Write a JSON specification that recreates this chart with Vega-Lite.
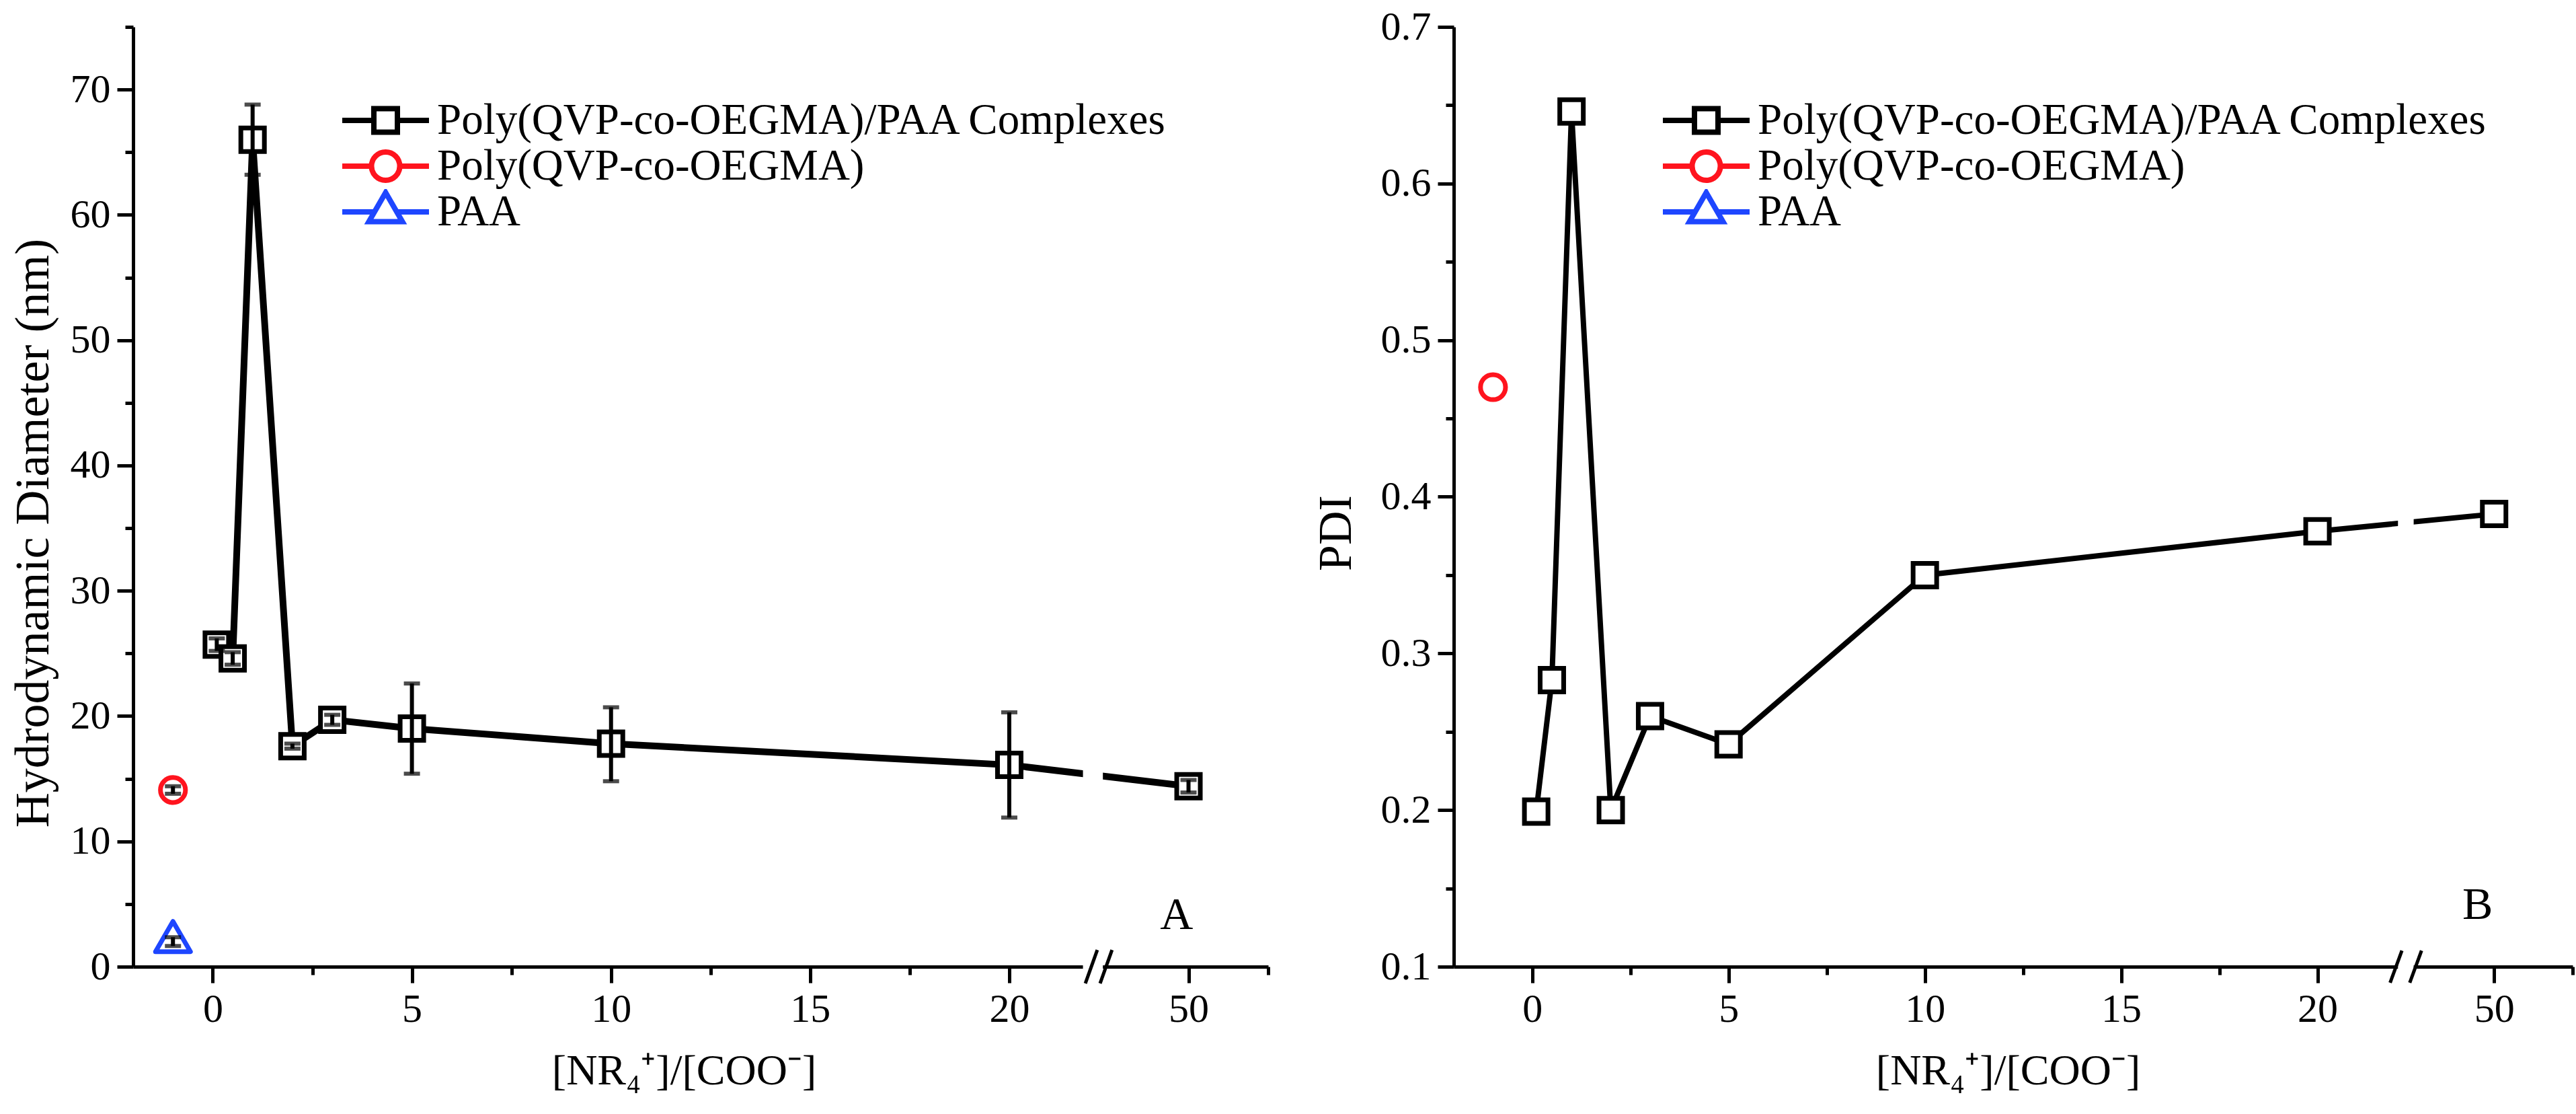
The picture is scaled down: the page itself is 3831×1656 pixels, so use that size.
{
  "$schema": "https://vega.github.io/schema/vega-lite/v6.json",
  "background": "white",
  "padding": {"left": 13, "top": 10, "right": 5, "bottom": 5},
  "bounds": "flush",
  "spacing": 276,
  "config": {
    "view": {"stroke": null},
    "font": "Liberation Serif",
    "axis": {
      "domainColor": "black", "domainWidth": 5, "tickColor": "black", "tickWidth": 5,
      "labelColor": "black", "labelFont": "Liberation Serif", "labelFontSize": 60,
      "titleFont": "Liberation Serif", "titleColor": "black", "titleFontWeight": "normal",
      "grid": false, "labelFlush": false, "labelOverlap": false
    }
  },
  "datasets": {
    "A": [
      {"series": "Poly(QVP-co-OEGMA)/PAA Complexes", "x": 0.1, "y": 25.7, "lo": 25.2, "hi": 26.2},
      {"series": "Poly(QVP-co-OEGMA)/PAA Complexes", "x": 0.5, "y": 24.6, "lo": 24.1, "hi": 25.1},
      {"series": "Poly(QVP-co-OEGMA)/PAA Complexes", "x": 1, "y": 66.0, "lo": 63.2, "hi": 68.8},
      {"series": "Poly(QVP-co-OEGMA)/PAA Complexes", "x": 2, "y": 17.6, "lo": 17.4, "hi": 17.8},
      {"series": "Poly(QVP-co-OEGMA)/PAA Complexes", "x": 3, "y": 19.7, "lo": 19.3, "hi": 20.1},
      {"series": "Poly(QVP-co-OEGMA)/PAA Complexes", "x": 5, "y": 19.0, "lo": 15.4, "hi": 22.6},
      {"series": "Poly(QVP-co-OEGMA)/PAA Complexes", "x": 10, "y": 17.8, "lo": 14.8, "hi": 20.7},
      {"series": "Poly(QVP-co-OEGMA)/PAA Complexes", "x": 20, "y": 16.1, "lo": 11.9, "hi": 20.3},
      {"series": "Poly(QVP-co-OEGMA)/PAA Complexes", "x": 50, "y": 14.4, "lo": 13.9, "hi": 14.9},
      {"series": "Poly(QVP-co-OEGMA)", "x": -1, "y": 14.1, "lo": 13.8, "hi": 14.4},
      {"series": "PAA", "x": -1, "y": 2.0, "lo": 1.65, "hi": 2.35}
    ],
    "B": [
      {"series": "Poly(QVP-co-OEGMA)/PAA Complexes", "x": 0.1, "y": 0.199},
      {"series": "Poly(QVP-co-OEGMA)/PAA Complexes", "x": 0.5, "y": 0.283},
      {"series": "Poly(QVP-co-OEGMA)/PAA Complexes", "x": 1, "y": 0.646},
      {"series": "Poly(QVP-co-OEGMA)/PAA Complexes", "x": 2, "y": 0.2},
      {"series": "Poly(QVP-co-OEGMA)/PAA Complexes", "x": 3, "y": 0.26},
      {"series": "Poly(QVP-co-OEGMA)/PAA Complexes", "x": 5, "y": 0.242},
      {"series": "Poly(QVP-co-OEGMA)/PAA Complexes", "x": 10, "y": 0.35},
      {"series": "Poly(QVP-co-OEGMA)/PAA Complexes", "x": 20, "y": 0.378},
      {"series": "Poly(QVP-co-OEGMA)/PAA Complexes", "x": 50, "y": 0.389},
      {"series": "Poly(QVP-co-OEGMA)", "x": -1, "y": 0.47}
    ]
  },
  "resolve": {
    "scale": {"shape": "independent", "stroke": "independent"},
    "legend": {"shape": "independent", "stroke": "independent"}
  },
  "hconcat": [
    {
      "width": 1688,
      "height": 1397,
      "resolve": {"axis": {"x": "independent", "y": "independent"}},
      "layer": [
        {
          "data": {"name": "A"},
          "transform": [{"filter": "datum.series == 'Poly(QVP-co-OEGMA)/PAA Complexes'"}],
          "mark": {"type": "line", "color": "black", "strokeWidth": 10},
          "encoding": {
            "x": {"field": "x", "type": "quantitative",
                  "scale": {"domain": [-2, 22.2, 47.7, 52], "range": [0, 1433.3, 1433.3, 1688], "nice": false, "zero": false},
                  "axis": {"orient": "bottom", "values": [0, 5, 10, 15, 20, 50], "tickSize": 24, "labelPadding": 10,
                           "title": "[NR₄⁺]/[COO⁻]", "titleFontSize": 64, "titlePadding": 30, "titleX": 819}},
            "y": {"field": "y", "type": "quantitative",
                  "scale": {"domain": [0, 75], "nice": false, "zero": false},
                  "axis": {"orient": "left", "values": [0, 10, 20, 30, 40, 50, 60, 70], "tickSize": 24, "labelPadding": 10,
                           "title": "Hydrodynamic Diameter (nm)", "titleFontSize": 72, "titlePadding": 18, "titleY": 752}}
          }
        },
        {
          "data": {"name": "A"},
          "transform": [{"filter": "datum.series == 'Poly(QVP-co-OEGMA)/PAA Complexes'"}],
          "mark": {"type": "point", "shape": "square", "size": 1225, "strokeWidth": 7, "stroke": "black", "fill": "white", "filled": true, "opacity": 1},
          "encoding": {
            "x": {"field": "x", "type": "quantitative", "axis": null},
            "y": {"field": "y", "type": "quantitative", "axis": null}
          }
        },
        {
          "data": {"name": "A"},
          "transform": [{"filter": "datum.series == 'Poly(QVP-co-OEGMA)'"}],
          "mark": {"type": "point", "shape": "circle", "size": 1385, "strokeWidth": 7, "stroke": "#ff141e", "fill": "white", "filled": true, "opacity": 1},
          "encoding": {
            "x": {"field": "x", "type": "quantitative", "axis": null},
            "y": {"field": "y", "type": "quantitative", "axis": null}
          }
        },
        {
          "data": {"name": "A"},
          "transform": [{"filter": "datum.series == 'PAA'"}],
          "mark": {"type": "point", "shape": "M0,-1.155L1,0.577L-1,0.577Z", "size": 2704, "strokeWidth": 7, "stroke": "#1e46ff", "fill": "white", "filled": true, "opacity": 1, "strokeJoin": "round"},
          "encoding": {
            "x": {"field": "x", "type": "quantitative", "axis": null},
            "y": {"field": "y", "type": "quantitative", "axis": null}
          }
        },
        {
          "data": {"name": "A"},
          "mark": {"type": "errorbar", "ticks": true, "size": 24, "thickness": 6, "color": "black"},
          "encoding": {
            "x": {"field": "x", "type": "quantitative", "axis": null},
            "y": {"field": "lo", "type": "quantitative", "axis": null},
            "y2": {"field": "hi"}
          }
        },
        {
          "data": {"values": [{"x": 21.85, "x2": 47.85, "y": -0.5, "y2": 40}]},
          "mark": {"type": "rect", "color": "white", "clip": false},
          "encoding": {
            "x": {"field": "x", "type": "quantitative",
                  "scale": {"domain": [-2, 22.2, 47.7, 52], "range": [0, 1433.3, 1433.3, 1688], "nice": false, "zero": false},
                  "axis": {"orient": "bottom", "values": [2.5, 7.5, 12.5, 17.5, 52], "tickSize": 12, "labels": false, "domain": false, "title": null}},
            "x2": {"field": "x2"},
            "y": {"field": "y", "type": "quantitative",
                  "scale": {"domain": [0, 75], "nice": false, "zero": false},
                  "axis": {"orient": "left", "values": [5, 15, 25, 35, 45, 55, 65, 75], "tickSize": 12, "labels": false, "domain": false, "title": null}},
            "y2": {"field": "y2"}
          }
        },
        {
          "data": {"values": [{"x": 21.91, "x2": 47.71, "y": -1.34, "y2": 1.34}, {"x": 47.78, "x2": 48.08, "y": -1.34, "y2": 1.34}]},
          "mark": {"type": "rule", "color": "black", "strokeWidth": 5, "clip": false},
          "encoding": {
            "x": {"field": "x", "type": "quantitative", "axis": null,
                  "scale": {"domain": [-2, 22.2, 47.7, 52], "range": [0, 1433.3, 1433.3, 1688], "nice": false, "zero": false}},
            "x2": {"field": "x2"},
            "y": {"field": "y", "type": "quantitative", "axis": null,
                  "scale": {"domain": [0, 75], "nice": false, "zero": false}},
            "y2": {"field": "y2"}
          }
        },
        {
          "data": {"values": [{"x": 49.7, "y": 4.1, "t": "A"}]},
          "mark": {"type": "text", "font": "Liberation Serif", "fontSize": 68, "color": "black", "align": "center", "baseline": "middle"},
          "encoding": {
            "x": {"field": "x", "type": "quantitative", "axis": null,
                  "scale": {"domain": [-2, 22.2, 47.7, 52], "range": [0, 1433.3, 1433.3, 1688], "nice": false, "zero": false}},
            "y": {"field": "y", "type": "quantitative", "axis": null,
                  "scale": {"domain": [0, 75], "nice": false, "zero": false}},
            "text": {"field": "t"}
          }
        },
        {
          "data": {"name": "A"},
          "mark": {"type": "point", "opacity": 0, "filled": false},
          "encoding": {
            "x": {"field": "x", "type": "quantitative", "axis": null},
            "y": {"field": "y", "type": "quantitative", "axis": null},
            "shape": {"field": "series", "type": "nominal",
                      "scale": {"domain": ["Poly(QVP-co-OEGMA)/PAA Complexes", "Poly(QVP-co-OEGMA)", "PAA"],
                                "range": ["M-0.942,0L-0.2555,0M0.2555,0L0.942,0M-0.2555,-0.2555L0.2555,-0.2555L0.2555,0.2555L-0.2555,0.2555Z",
                                          "M-0.942,0L-0.3066,0M0.3066,0L0.942,0M-0.3066,0A0.3066,0.3066,0,1,1,0.3066,0A0.3066,0.3066,0,1,1,-0.3066,0Z",
                                          "M-0.942,0L-0.245,0M0.245,0L0.942,0M0,-0.42L0.364,0.21L-0.364,0.21Z"]},
                      "legend": {"title": null, "orient": "none", "legendX": 303, "legendY": 105, "padding": 0,
                                 "symbolSize": 18769, "symbolStrokeWidth": 8, "symbolOpacity": 1, "symbolFillColor": "white",
                                 "labelFont": "Liberation Serif", "labelFontSize": 65, "labelColor": "black", "labelLimit": 3000,
                                 "labelOffset": 4, "rowPadding": 0, "clipHeight": 68}},
            "stroke": {"field": "series", "type": "nominal",
                       "scale": {"domain": ["Poly(QVP-co-OEGMA)/PAA Complexes", "Poly(QVP-co-OEGMA)", "PAA"],
                                 "range": ["black", "#ff141e", "#1e46ff"]},
                       "legend": {"title": null, "orient": "none", "legendX": 303, "legendY": 105, "padding": 0,
                                  "symbolSize": 18769, "symbolStrokeWidth": 8, "symbolOpacity": 1, "symbolFillColor": "white",
                                  "labelFont": "Liberation Serif", "labelFontSize": 65, "labelColor": "black", "labelLimit": 3000,
                                  "labelOffset": 4, "rowPadding": 0, "clipHeight": 68}}
          }
        }
      ]
    },
    {
      "width": 1664,
      "height": 1397,
      "resolve": {"axis": {"x": "independent", "y": "independent"}},
      "layer": [
        {
          "data": {"name": "B"},
          "transform": [{"filter": "datum.series == 'Poly(QVP-co-OEGMA)/PAA Complexes'"}],
          "mark": {"type": "line", "color": "black", "strokeWidth": 8},
          "encoding": {
            "x": {"field": "x", "type": "quantitative",
                  "scale": {"domain": [-2, 22.2, 47.7, 52], "range": [0, 1413.0, 1413.0, 1664], "nice": false, "zero": false},
                  "axis": {"orient": "bottom", "values": [0, 5, 10, 15, 20, 50], "tickSize": 24, "labelPadding": 10,
                           "title": "[NR₄⁺]/[COO⁻]", "titleFontSize": 64, "titlePadding": 30, "titleX": 824}},
            "y": {"field": "y", "type": "quantitative",
                  "scale": {"domain": [0.1, 0.7], "nice": false, "zero": false},
                  "axis": {"orient": "left", "values": [0.1, 0.2, 0.3, 0.4, 0.5, 0.6, 0.7], "format": ".1f", "tickSize": 24, "labelPadding": 10,
                           "title": "PDI", "titleFontSize": 70, "titlePadding": 30, "titleY": 752}}
          }
        },
        {
          "data": {"name": "B"},
          "transform": [{"filter": "datum.series == 'Poly(QVP-co-OEGMA)/PAA Complexes'"}],
          "mark": {"type": "point", "shape": "square", "size": 1225, "strokeWidth": 7, "stroke": "black", "fill": "white", "filled": true, "opacity": 1},
          "encoding": {
            "x": {"field": "x", "type": "quantitative", "axis": null},
            "y": {"field": "y", "type": "quantitative", "axis": null}
          }
        },
        {
          "data": {"name": "B"},
          "transform": [{"filter": "datum.series == 'Poly(QVP-co-OEGMA)'"}],
          "mark": {"type": "point", "shape": "circle", "size": 1385, "strokeWidth": 7, "stroke": "#ff141e", "fill": "white", "filled": true, "opacity": 1},
          "encoding": {
            "x": {"field": "x", "type": "quantitative", "axis": null},
            "y": {"field": "y", "type": "quantitative", "axis": null}
          }
        },
        {
          "data": {"values": [{"x": 22.05, "x2": 47.95, "y": 0.095, "y2": 0.5}]},
          "mark": {"type": "rect", "color": "white", "clip": false},
          "encoding": {
            "x": {"field": "x", "type": "quantitative",
                  "scale": {"domain": [-2, 22.2, 47.7, 52], "range": [0, 1413.0, 1413.0, 1664], "nice": false, "zero": false},
                  "axis": {"orient": "bottom", "values": [2.5, 7.5, 12.5, 17.5, 52], "tickSize": 12, "labels": false, "domain": false, "title": null}},
            "x2": {"field": "x2"},
            "y": {"field": "y", "type": "quantitative",
                  "scale": {"domain": [0.1, 0.7], "nice": false, "zero": false},
                  "axis": {"orient": "left", "values": [0.15, 0.25, 0.35, 0.45, 0.55, 0.65], "tickSize": 12, "labels": false, "domain": false, "title": null}},
            "y2": {"field": "y2"}
          }
        },
        {
          "data": {"values": [{"x": 21.85, "x2": 22.15, "y": 0.0897, "y2": 0.1103}, {"x": 47.85, "x2": 48.15, "y": 0.0897, "y2": 0.1103}]},
          "mark": {"type": "rule", "color": "black", "strokeWidth": 5, "clip": false},
          "encoding": {
            "x": {"field": "x", "type": "quantitative", "axis": null,
                  "scale": {"domain": [-2, 22.2, 47.7, 52], "range": [0, 1413.0, 1413.0, 1664], "nice": false, "zero": false}},
            "x2": {"field": "x2"},
            "y": {"field": "y", "type": "quantitative", "axis": null,
                  "scale": {"domain": [0.1, 0.7], "nice": false, "zero": false}},
            "y2": {"field": "y2"}
          }
        },
        {
          "data": {"values": [{"x": 49.58, "y": 0.139, "t": "B"}]},
          "mark": {"type": "text", "font": "Liberation Serif", "fontSize": 68, "color": "black", "align": "center", "baseline": "middle"},
          "encoding": {
            "x": {"field": "x", "type": "quantitative", "axis": null,
                  "scale": {"domain": [-2, 22.2, 47.7, 52], "range": [0, 1413.0, 1413.0, 1664], "nice": false, "zero": false}},
            "y": {"field": "y", "type": "quantitative", "axis": null,
                  "scale": {"domain": [0.1, 0.7], "nice": false, "zero": false}},
            "text": {"field": "t"}
          }
        },
        {
          "data": {"name": "B"},
          "mark": {"type": "point", "opacity": 0, "filled": false},
          "encoding": {
            "x": {"field": "x", "type": "quantitative", "axis": null},
            "y": {"field": "y", "type": "quantitative", "axis": null},
            "shape": {"field": "series", "type": "nominal",
                      "scale": {"domain": ["Poly(QVP-co-OEGMA)/PAA Complexes", "Poly(QVP-co-OEGMA)", "PAA"],
                                "range": ["M-0.942,0L-0.2555,0M0.2555,0L0.942,0M-0.2555,-0.2555L0.2555,-0.2555L0.2555,0.2555L-0.2555,0.2555Z",
                                          "M-0.942,0L-0.3066,0M0.3066,0L0.942,0M-0.3066,0A0.3066,0.3066,0,1,1,0.3066,0A0.3066,0.3066,0,1,1,-0.3066,0Z",
                                          "M-0.942,0L-0.245,0M0.245,0L0.942,0M0,-0.42L0.364,0.21L-0.364,0.21Z"]},
                      "legend": {"title": null, "orient": "none", "legendX": 303, "legendY": 105, "padding": 0,
                                 "symbolSize": 18769, "symbolStrokeWidth": 8, "symbolOpacity": 1, "symbolFillColor": "white",
                                 "labelFont": "Liberation Serif", "labelFontSize": 65, "labelColor": "black", "labelLimit": 3000,
                                 "labelOffset": 4, "rowPadding": 0, "clipHeight": 68}},
            "stroke": {"field": "series", "type": "nominal",
                       "scale": {"domain": ["Poly(QVP-co-OEGMA)/PAA Complexes", "Poly(QVP-co-OEGMA)", "PAA"],
                                 "range": ["black", "#ff141e", "#1e46ff"]},
                       "legend": {"title": null, "orient": "none", "legendX": 303, "legendY": 105, "padding": 0,
                                  "symbolSize": 18769, "symbolStrokeWidth": 8, "symbolOpacity": 1, "symbolFillColor": "white",
                                  "labelFont": "Liberation Serif", "labelFontSize": 65, "labelColor": "black", "labelLimit": 3000,
                                  "labelOffset": 4, "rowPadding": 0, "clipHeight": 68}}
          }
        }
      ]
    }
  ]
}
